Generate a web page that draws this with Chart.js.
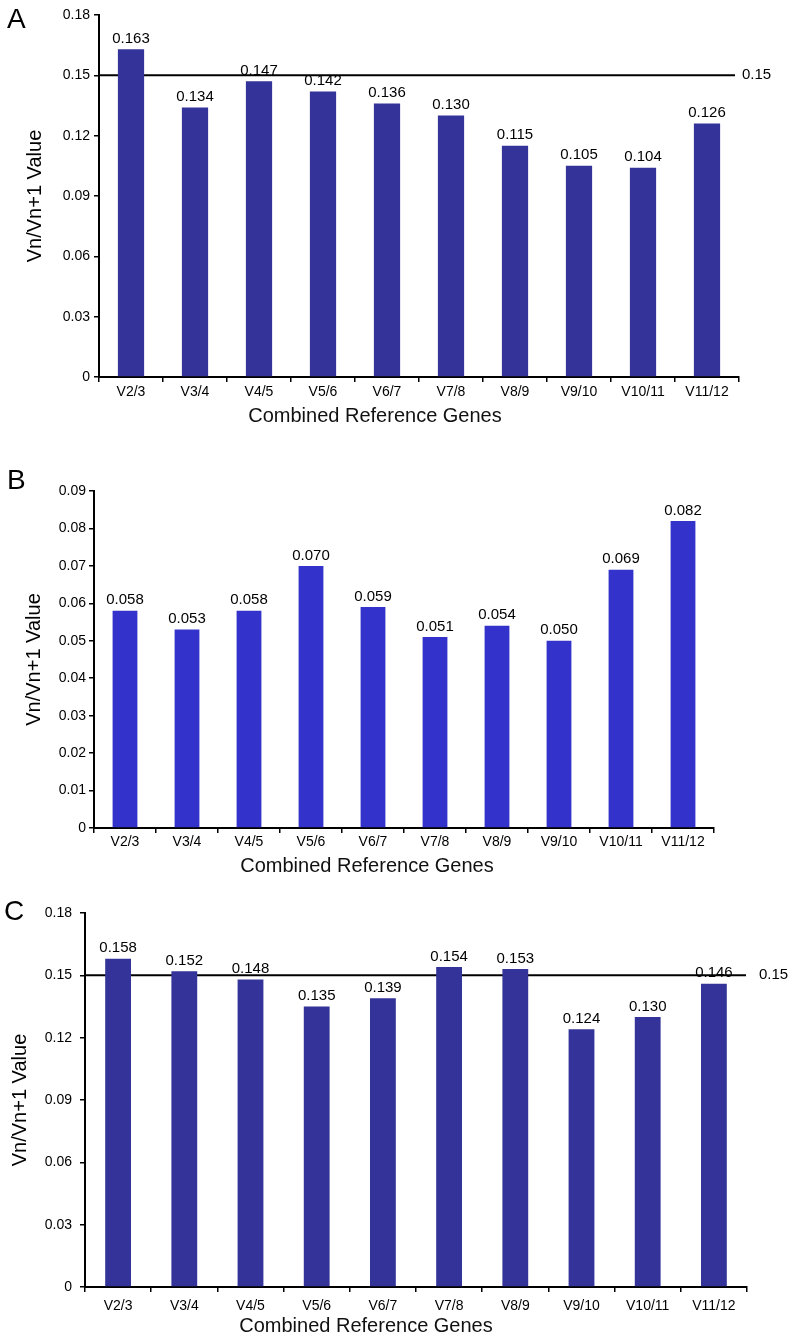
<!DOCTYPE html>
<html><head><meta charset="utf-8">
<script src="https://cdn.jsdelivr.net/npm/chart.js@4.4.1/dist/chart.umd.min.js"></script>
<style>
html,body{margin:0;padding:0;background:#fff;}
body{width:792px;height:1339px;position:relative;overflow:hidden;font-family:"Liberation Sans",Arial,sans-serif;}
.panel{position:absolute;left:0;width:792px;}
.letter{position:absolute;font-size:28px;line-height:28px;color:#000;}
.xtitle{position:absolute;font-size:20px;line-height:24px;white-space:nowrap;transform:translate(-50%,-50%);color:#111;}
</style></head><body>
<div class="panel" style="top:0;height:440px"><canvas id="cA"></canvas></div>
<div class="panel" style="top:440px;height:440px"><canvas id="cB"></canvas></div>
<div class="panel" style="top:880px;height:459px"><canvas id="cC"></canvas></div>
<div class="letter" style="left:7px;top:5px">A</div>
<div class="letter" style="left:7px;top:466px">B</div>
<div class="letter" style="left:4px;top:897px">C</div>
<div class="xtitle" style="left:375px;top:415px">Combined Reference Genes</div>
<div class="xtitle" style="left:367px;top:865px">Combined Reference Genes</div>
<div class="xtitle" style="left:366px;top:1325px">Combined Reference Genes</div>
<script>
const categories = ['V2/3','V3/4','V4/5','V5/6','V6/7','V7/8','V8/9','V9/10','V10/11','V11/12'];
const valuesA = [0.163,0.134,0.147,0.142,0.136,0.130,0.115,0.105,0.104,0.126];
const valuesB = [0.058,0.053,0.058,0.070,0.059,0.051,0.054,0.050,0.069,0.082];
const valuesC = [0.158,0.152,0.148,0.135,0.139,0.154,0.153,0.124,0.130,0.146];
const yTicksA = ['0','0.03','0.06','0.09','0.12','0.15','0.18'];
const yTicksB = ['0','0.01','0.02','0.03','0.04','0.05','0.06','0.07','0.08','0.09'];
const yTicksC = ['0','0.03','0.06','0.09','0.12','0.15','0.18'];
const refLineA = 0.15;
const refLineC = 0.15;
const yTitle = 'Vn/Vn+1 Value';

const FONT = '"Liberation Sans", Arial, sans-serif';

const valueLabelPlugin = {
  id: 'valueLabels',
  afterDatasetsDraw(chart) {
    const ctx = chart.ctx;
    const meta = chart.getDatasetMeta(0);
    const data = chart.data.datasets[0].data;
    ctx.save();
    ctx.font = '15px ' + FONT;
    ctx.fillStyle = '#000';
    ctx.textAlign = 'center';
    ctx.textBaseline = 'bottom';
    meta.data.forEach((bar, i) => {
      ctx.fillText(data[i].toFixed(3), bar.x, bar.y - 3);
    });
    ctx.restore();
  }
};

const refLinePlugin = {
  id: 'refLine',
  beforeDatasetsDraw(chart, args, opts) {
    if (opts.value == null) return;
    const {ctx, chartArea} = chart;
    const y = chart.scales.y.getPixelForValue(opts.value);
    ctx.save();
    ctx.strokeStyle = '#000';
    ctx.lineWidth = 2;
    ctx.beginPath();
    ctx.moveTo(chartArea.left, y);
    ctx.lineTo(chartArea.right + (opts.extend || 0), y);
    ctx.stroke();
    ctx.restore();
  },
  afterDraw(chart, args, opts) {
    if (opts.value == null) return;
    const {ctx, chartArea} = chart;
    const y = chart.scales.y.getPixelForValue(opts.value);
    ctx.save();
    ctx.font = '15px ' + FONT;
    ctx.fillStyle = '#000';
    ctx.textAlign = 'left';
    ctx.textBaseline = 'middle';
    ctx.fillText(String(opts.value), chartArea.right + (opts.extend || 0) + opts.gap, y);
    ctx.restore();
  }
};

function makePanel(id, values, ticks, color, ref, geo) {
  const max = parseFloat(ticks[ticks.length - 1]);
  const step = parseFloat(ticks[1]);
  return new Chart(document.getElementById(id), {
    type: 'bar',
    data: {
      labels: categories,
      datasets: [{ data: values, backgroundColor: color, borderWidth: 0,
        barPercentage: geo.barPct, categoryPercentage: 1.0 }]
    },
    options: {
      responsive: true, maintainAspectRatio: false, animation: false,
      layout: { padding: { left: 0, right: geo.right, top: geo.top, bottom: 0 } },
      plugins: { legend: { display: false }, tooltip: { enabled: false },
        refLine: { value: ref, gap: geo.refGap, extend: geo.refExtend } },
      scales: {
        x: {
          grid: { offset: true, drawOnChartArea: false, drawTicks: true, tickLength: 5, color: '#000', lineWidth: 1.5 },
          border: { display: true, color: '#000', width: 2 },
          ticks: { color: '#000', font: { family: FONT, size: 14 }, padding: geo.xPad, maxRotation: 0, autoSkip: false },
          afterFit(s) { s.height = geo.xH; }
        },
        y: {
          min: 0, max: max,
          grid: { drawOnChartArea: false, drawTicks: true, tickLength: 5, color: '#000', lineWidth: 1.5 },
          border: { display: true, color: '#000', width: 2 },
          ticks: { stepSize: step, color: '#000', font: { family: FONT, size: 14 }, padding: geo.yPad,
            callback: (v) => { const t = ticks.find(l => Math.abs(parseFloat(l) - v) < 1e-9); return t === undefined ? '' : t; } },
          title: { display: true, text: yTitle, color: '#000', font: { family: FONT, size: 20 }, padding: { top: geo.yTitlePad, bottom: 0 } },
          afterFit(s) { s.width = geo.left; }
        }
      }
    },
    plugins: [refLinePlugin, valueLabelPlugin]
  });
}

makePanel('cA', valuesA, yTicksA, '#333399', refLineA,
  { left: 99, right: 53, top: 15, xH: 63, barPct: 0.41, xPad: 2, yPad: 4, yTitlePad: 23, refGap: 7, refExtend: -4 });
makePanel('cB', valuesB, yTicksB, '#3333cc', null,
  { left: 94, right: 78, top: 51, xH: 52, barPct: 0.40, xPad: 1, yPad: 3, yTitlePad: 22, refGap: 7, refExtend: 0 });
makePanel('cC', valuesC, yTicksC, '#333399', refLineC,
  { left: 85, right: 45, top: 33, xH: 52, barPct: 0.39, xPad: 6, yPad: 8, yTitlePad: 8, refGap: 13, refExtend: -1 });
</script>
</body></html>
